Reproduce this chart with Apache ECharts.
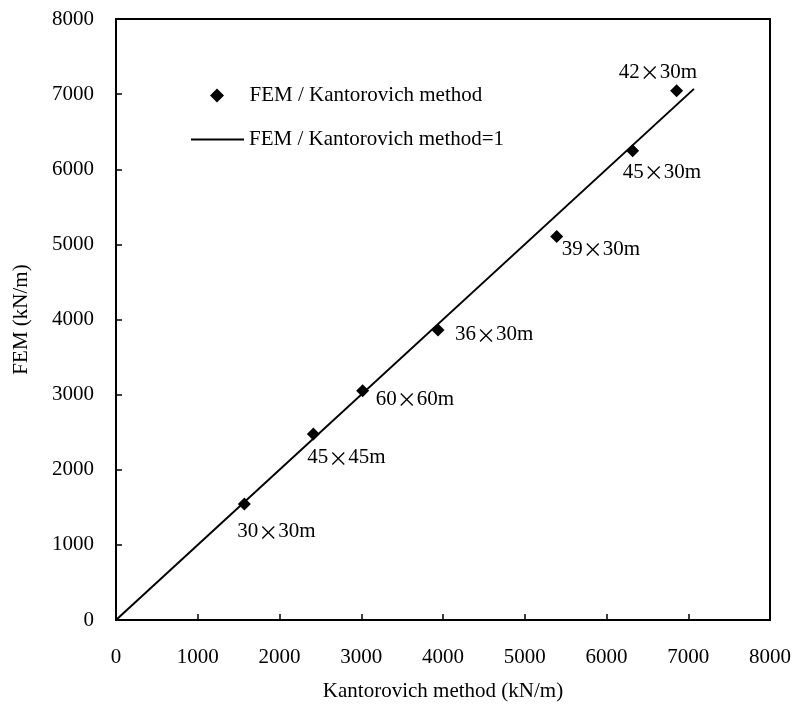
<!DOCTYPE html>
<html>
<head>
<meta charset="utf-8">
<script src="https://cdn.jsdelivr.net/npm/echarts@6/dist/echarts.min.js"></script>
<style>html,body{margin:0;padding:0;background:#fff}#c{width:793px;height:704px}</style>
</head>
<body>
<div id="c"></div>
<script>
// ---- data ----
var caseNames = ['30×30m', '45×45m', '60×60m', '36×30m', '39×30m', '45×30m', '42×30m'];
var kantorovich = [1570, 2414, 3017, 3939, 5391, 6320, 6858];
var fem = [1545, 2477, 3053, 3861, 5104, 6245, 7044];
var refLineX = [0, 7070];
var refLineY = [0, 7070];
var xTicks = [0, 1000, 2000, 3000, 4000, 5000, 6000, 7000, 8000];
var yTicks = [0, 1000, 2000, 3000, 4000, 5000, 6000, 7000, 8000];
var seriesNames = ['FEM / Kantorovich method', 'FEM / Kantorovich method=1'];
var xName = 'Kantorovich method (kN/m)';
var yName = 'FEM (kN/m)';

// ---- label placement (offsets from point, px) ----
var labelShift = {
  '30×30m': [-7, 28], '45×45m': [-6, 24], '60×60m': [13, 9], '36×30m': [17, 5],
  '39×30m': [5, 13], '45×30m': [-10, 22], '42×30m': [-58, -18]
};

var FONT = 'Liberation Serif';
var SYM = 13;
var scatterData = caseNames.map(function (n, i) {
  var s = labelShift[n];
  return {
    value: [kantorovich[i], fem[i]],
    name: n,
    label: { position: [s[0] + SYM / 2, s[1] + SYM / 2] }
  };
});
var lineData = refLineX.map(function (x, i) { return [x, refLineY[i]]; });

var chart = echarts.init(document.getElementById('c'));
var axisCommon = {
  axisLine: { show: true, onZero: false, lineStyle: { color: '#000', width: 2 } },
  axisTick: { show: true, inside: true, length: 6, lineStyle: { color: '#000', width: 1.5 } },
  splitLine: { show: false },
  nameLocation: 'middle',
  nameTextStyle: { fontFamily: FONT, fontSize: 21, color: '#000' }
};
var tickFmt = function (v) { return String(v); };
chart.setOption({
  animation: false,
  backgroundColor: '#fff',
  grid: { left: 116, right: 23, top: 19, bottom: 84, show: true, borderColor: '#000', borderWidth: 2, outerBoundsMode: 'none', containLabel: false },
  legend: [
    {
      data: [{ name: seriesNames[0], icon: 'path://M0,-1L1,0L0,1L-1,0Z' }],
      left: 205, top: 80, itemWidth: 55, itemHeight: 14, symbolKeepAspect: true,
      textStyle: { fontFamily: FONT, fontSize: 21, color: '#000' }
    },
    {
      data: [{ name: seriesNames[1], icon: 'rect' }],
      left: 186, top: 124, itemWidth: 53, itemHeight: 2,
      itemStyle: { color: '#000' },
      textStyle: { fontFamily: FONT, fontSize: 21, color: '#000' }
    }
  ],
  xAxis: Object.assign({}, axisCommon, {
    type: 'value', name: xName, nameGap: 61,
    min: xTicks[0], max: xTicks[xTicks.length - 1], interval: xTicks[1] - xTicks[0],
    axisLabel: { margin: 27, fontFamily: FONT, fontSize: 21, color: '#000', formatter: tickFmt }
  }),
  yAxis: Object.assign({}, axisCommon, {
    type: 'value', name: yName, nameGap: 84,
    min: yTicks[0], max: yTicks[yTicks.length - 1], interval: yTicks[1] - yTicks[0],
    axisLabel: { margin: 22, fontFamily: FONT, fontSize: 21, color: '#000', formatter: tickFmt }
  }),
  series: [
    {
      name: seriesNames[0], type: 'scatter', symbol: 'diamond', symbolSize: SYM,
      itemStyle: { color: '#000', opacity: 1 },
      data: scatterData,
      label: {
        show: true, align: 'left', verticalAlign: 'middle',
        formatter: function (p) {
          var parts = p.name.split('×');
          return '{n|' + parts[0] + '}{x|×}{n|' + parts[1] + '}';
        },
        rich: {
          n: { fontFamily: FONT, fontSize: 21, color: '#000' },
          x: { fontFamily: 'Noto Sans CJK SC', fontSize: 20, color: '#000' }
        },
        fontFamily: FONT, fontSize: 21, color: '#000'
      },
      z: 3
    },
    {
      name: seriesNames[1], type: 'line', symbol: 'none',
      lineStyle: { color: '#000', width: 2 }, itemStyle: { color: '#000' },
      data: lineData, z: 2
    }
  ]
});
</script>
</body>
</html>
